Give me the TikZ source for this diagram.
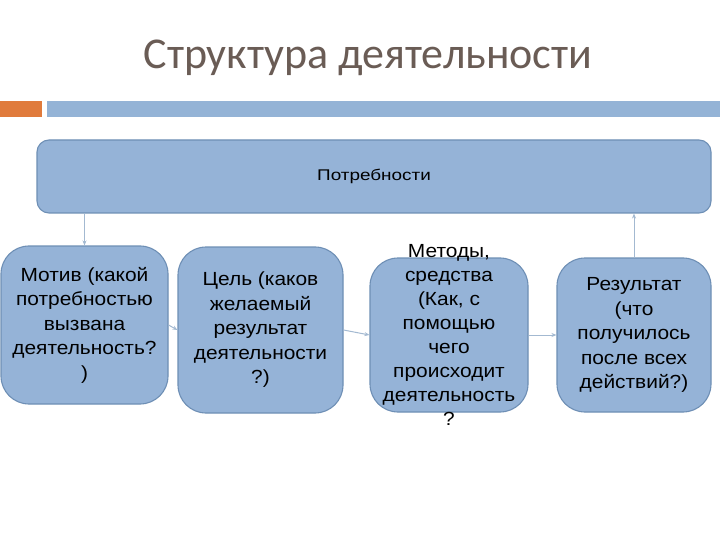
\documentclass[tikz,border=0pt]{standalone}
\usepackage{fontspec}
\setmainfont{Liberation Sans}
\newfontfamily\titlefont{Carlito}
\newfontfamily\boxfont[FakeStretch=1.1]{Liberation Sans}
\newfontfamily\needfont[FakeStretch=1.22]{Liberation Sans}
\usetikzlibrary{positioning,calc,arrows.meta}

\definecolor{boxfill}{HTML}{95B3D7}
\definecolor{boxline}{HTML}{6E8FB5}
\definecolor{linkcol}{HTML}{A3B9D1}
\definecolor{titlecol}{HTML}{6A5C55}
\definecolor{barblue}{HTML}{94B3D6}
\definecolor{barorange}{HTML}{E07B3C}

\begin{document}
\begin{tikzpicture}[x=1pt, y=-1pt,
    block/.style={draw=boxline, fill=boxfill, line width=1.1pt, rounded corners=28pt, align=center, inner sep=2pt, font=\boxfont\fontsize{19}{24.5}\selectfont},
    arr/.style={-{Stealth[length=5pt, width=4pt]}, linkcol, line width=1pt}
]
    % Slide frame and heading
    \fill[white] (0,0) rectangle (720,540);
    \useasboundingbox (0,0) rectangle (720,540);
    \node[text=titlecol, font=\titlefont\fontsize{44}{52}\selectfont] (title) at (368,58) {Структура деятельности};
    \fill[barorange] (0,101) rectangle (42,117);
    \fill[barblue] (47,101) rectangle (720,117);

    % Top box
    \node[block, rounded corners=12pt, minimum width=674pt, minimum height=73pt, font=\needfont\fontsize{15.5}{18}\selectfont] (need) at (374,176.5) {Потребности};

    % Row of stages
    \node[block, minimum width=167pt, minimum height=158pt] (motive) at (84.5,325) {Мотив (какой\\потребностью\\вызвана\\деятельность?\\)};
    \node[block, minimum width=165pt, minimum height=166pt] (goal) at (260.5,330) {Цель (каков\\желаемый\\результат\\деятельности\\?)};
    \node[block, minimum width=158pt, minimum height=154pt] (means) at (449,335) {};
    \node[align=center, font=\boxfont\fontsize{19}{24}\selectfont] (meanstext) at (means.center) {Методы,\\средства\\(Как, с\\помощью\\чего\\происходит\\деятельность\\?};
    \node[block, minimum width=154pt, minimum height=154pt] (result) at (634,335) {Результат\\(что\\получилось\\после всех\\действий?)};

    % Connectors
    \draw[arr] (need.south -| motive.north) -- (motive.north);
    \draw[arr] (motive.east) -- (goal.west);
    \draw[arr] (goal.east) -- (means.west);
    \draw[arr] (means.east) -- (result.west);
    \draw[arr] (result.north) -- (result.north |- need.south);
\end{tikzpicture}
\end{document}
